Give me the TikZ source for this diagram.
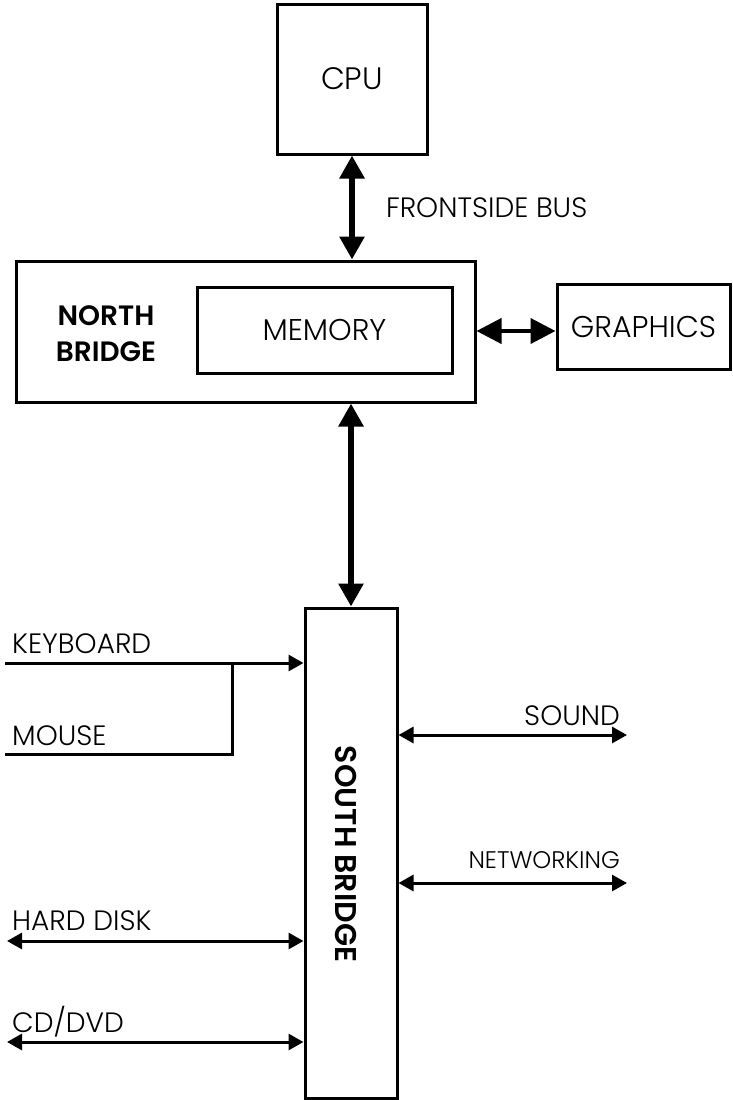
\documentclass[tikz,border=0pt]{standalone}
\usepackage{fontspec}
\setmainfont{Poppins Light}[BoldFont=Poppins SemiBold]
\usetikzlibrary{positioning,arrows.meta,calc}
\newcommand{\lblfont}{\fontsize{28}{33}\selectfont}

\begin{document}
\begin{tikzpicture}[x=1pt,y=-1pt,
      box/.style={draw, line width=3pt, inner sep=0pt, align=center, font=\lblfont},
      bus/.style={{Triangle[length=23pt,width=24pt]}-{Triangle[length=23pt,width=24pt]}, line width=6pt},
      gbus/.style={{Triangle[length=25pt,width=25pt]}-{Triangle[length=25pt,width=25pt]}, line width=4pt},
      wire/.style={line width=3pt},
      io/.style={wire, -{Triangle[length=15pt,width=16pt]}},
      bio/.style={wire, {Triangle[length=15pt,width=16pt]}-{Triangle[length=15pt,width=16pt]}},
      lbl/.style={font=\lblfont, inner sep=0pt}]
    \useasboundingbox (0,0) rectangle (732,1100);
    % boxes
    \node[box, minimum width=150pt, minimum height=150pt, font=\fontsize{31}{36}\selectfont] (cpu) at (352,79) {CPU};
    \node[box, minimum width=459pt, minimum height=141pt] (nb) at (245.5,331.5) {};
    \node[box, minimum width=255pt, minimum height=86pt, font=\fontsize{30}{35}\selectfont] (mem) at (324.5,330) {MEMORY};
    \node[lbl, font=\fontsize{28}{36}\selectfont\bfseries, align=center] (nbl) at (106,334) {NORTH\\BRIDGE};
    \node[box, minimum width=173pt, minimum height=85pt, font=\fontsize{30}{35}\selectfont] (gfx) at (643.5,326.5) {GRAPHICS};
    \node[box, minimum width=92pt, minimum height=490pt] (sb) at (351,853) {};
    \node[lbl, font=\fontsize{30}{35}\selectfont\bfseries, rotate=-90] (sbl) at (346,854) {SOUTH BRIDGE};
    % buses
    \draw[bus] (cpu.south) -- (cpu.south |- nb.north)
      node[lbl, midway, anchor=west, xshift=31pt] (fsb) {FRONTSIDE BUS};
    \draw[bus] (sb.north |- nb.south) -- (sb.north);
    \draw[gbus] (nb.east |- 0,331) -- (gfx.west |- 0,331);
    % left side devices
    \coordinate (kbd) at (5,663);
    \coordinate (mse) at (5,754);
    \coordinate (join) at (232,754);
    \coordinate (hdd) at (7,941);
    \coordinate (cd) at (7,1042);
    \draw[io] (kbd) -- (kbd -| sb.west);
    \draw[wire] (mse) -- (join) -- (join |- kbd);
    \draw[bio] (hdd) -- (hdd -| sb.west);
    \draw[bio] (cd) -- (cd -| sb.west);
    \node[lbl, anchor=base west] (kbdl) at (12,653) {KEYBOARD};
    \node[lbl, anchor=base west] (msel) at (12,745) {MOUSE};
    \node[lbl, anchor=base west] (hddl) at (12,930) {HARD DISK};
    \node[lbl, anchor=base west] (cdl) at (12,1032) {CD/DVD};
    % right side devices
    \coordinate (snd) at (627,735);
    \coordinate (net) at (627,883);
    \draw[bio] (snd -| sb.east) -- (snd);
    \draw[bio] (net -| sb.east) -- (net);
    \node[lbl, anchor=base east] (sndl) at (620,725) {SOUND};
    \node[lbl, anchor=base east, font=\fontsize{24}{28}\selectfont] (netl) at (620,868) {NETWORKING};
\end{tikzpicture}
\end{document}
